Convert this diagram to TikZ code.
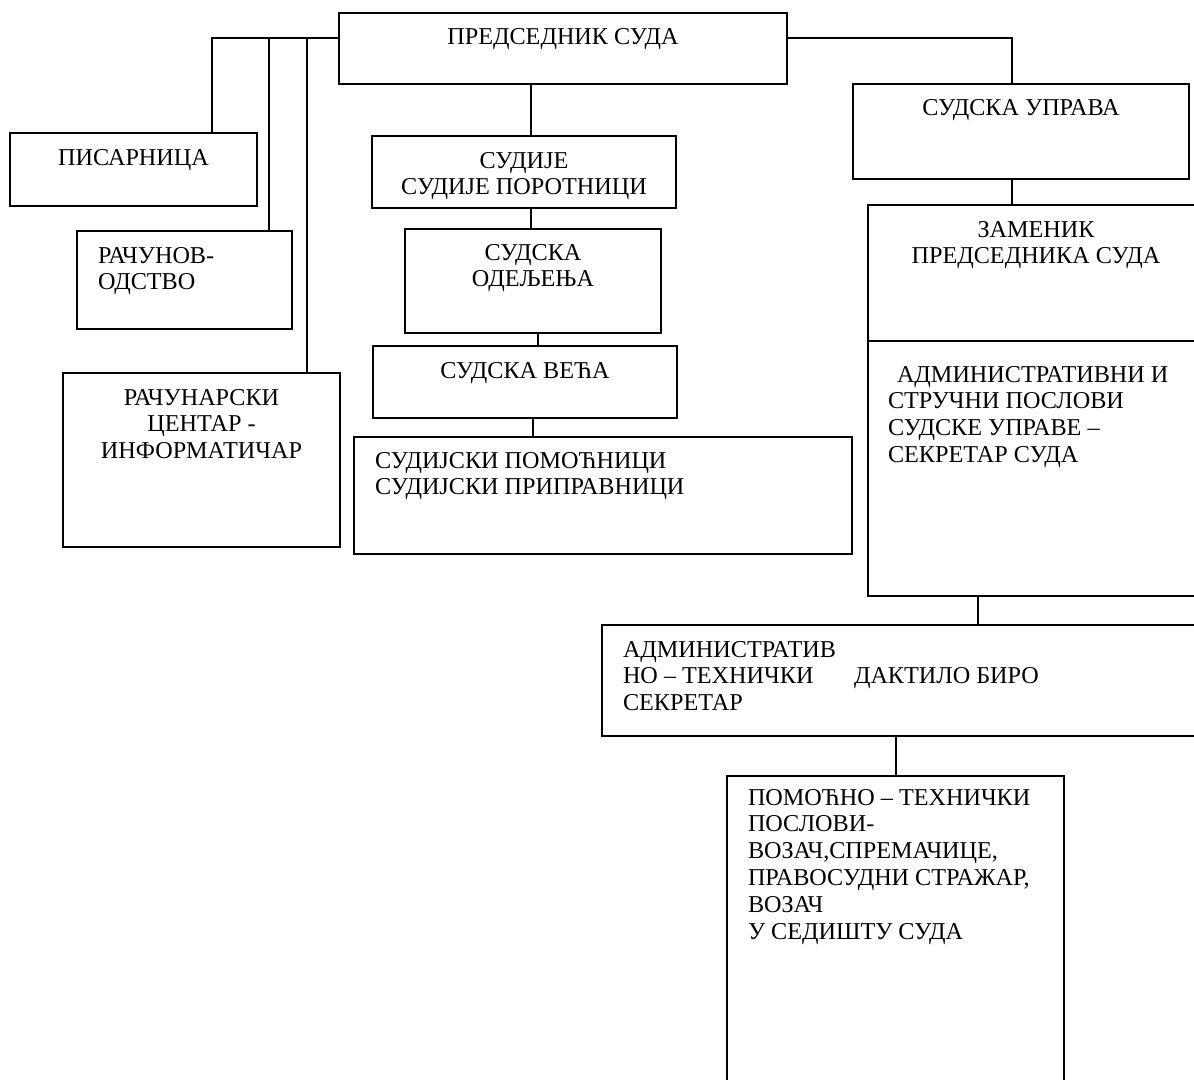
\documentclass[tikz,border=0pt]{standalone}
\usepackage{fontspec}
\setmainfont{Liberation Serif}
% stacked lines of a label; the first line carries the baseline
\newcommand\lns[2]{\begin{tabular}[t]{@{}#1@{}}#2\end{tabular}}
\begin{document}
\begin{tikzpicture}[x=1pt,y=-1pt,
  line width=1.8pt,
  orgbox/.style={draw, line width=1.8pt, inner sep=0pt, outer sep=0pt, anchor=north west},
  lbl/.style={inner sep=0pt, outer sep=0pt, anchor=base, font=\fontsize{24.2}{26.8}\selectfont},
  lblw/.style={lbl, anchor=base west}]
\useasboundingbox (0,0) rectangle (1194,1079);
\fill[white] (0,0) rectangle (1194,1079);
\clip (0,0) rectangle (1194,1079);

% boxes
\node[orgbox, minimum width=448pt, minimum height=71pt]  (pres)    at (339,13)  {};
\node[orgbox, minimum width=247pt, minimum height=73pt]  (pisar)   at (10,133)  {};
\node[orgbox, minimum width=215pt, minimum height=98pt]  (racun)   at (77,231)  {};
\node[orgbox, minimum width=277pt, minimum height=174pt] (racc)    at (63,373)  {};
\node[orgbox, minimum width=304pt, minimum height=72pt]  (sudije)  at (372,136) {};
\node[orgbox, minimum width=256pt, minimum height=104pt] (odelj)   at (405,229) {};
\node[orgbox, minimum width=304pt, minimum height=72pt]  (veca)    at (373,346) {};
\node[orgbox, minimum width=498pt, minimum height=117pt] (pomocn)  at (354,437) {};
\node[orgbox, minimum width=336pt, minimum height=95pt]  (uprava)  at (853,84)  {};
\node[orgbox, minimum width=336pt, minimum height=136pt] (zamenik) at (868,205) {};
\node[orgbox, minimum width=336pt, minimum height=255pt] (admin)   at (868,341) {};
\node[orgbox, minimum width=620pt, minimum height=111pt] (admtech) at (602,625) {};
\node[orgbox, minimum width=337pt, minimum height=320pt] (pomtech) at (727,776) {};

% labels
\node[lbl]  (tpres)    at ([yshift=-31pt]pres.north)   {ПРЕДСЕДНИК СУДА};
\node[lbl]  (tpisar)   at ([yshift=-32pt]pisar.north)  {ПИСАРНИЦА};
\node[lblw] (tracun)   at ([xshift=21pt,yshift=-32pt]racun.north west) {\lns{l}{РАЧУНОВ-\\ОДСТВО}};
\node[lbl]  (tracc)    at ([yshift=-32pt]racc.north)   {\lns{c}{РАЧУНАРСКИ\\ЦЕНТАР -\\ИНФОРМАТИЧАР}};
\node[lbl]  (tsudije)  at ([yshift=-32pt]sudije.north) {\lns{c}{СУДИЈЕ\\СУДИЈЕ ПОРОТНИЦИ}};
\node[lbl]  (todelj)   at ([yshift=-31pt]odelj.north)  {\lns{c}{СУДСКА\\ОДЕЉЕЊА}};
\node[lbl]  (tveca)    at ([yshift=-32pt]veca.north)   {СУДСКА ВЕЋА};
\node[lblw] (tpomocn)  at ([xshift=21pt,yshift=-31pt]pomocn.north west) {\lns{l}{СУДИЈСКИ ПОМОЋНИЦИ\\СУДИЈСКИ ПРИПРАВНИЦИ}};
\node[lbl]  (tuprava)  at ([yshift=-31pt]uprava.north) {СУДСКА УПРАВА};
\node[lbl]  (tzamenik) at ([yshift=-32pt]zamenik.north) {\lns{c}{ЗАМЕНИК\\ПРЕДСЕДНИКА СУДА}};
\node[lblw] (tadmin)   at ([xshift=20pt,yshift=-41pt]admin.north west) {\lns{l}{\hspace*{9pt}АДМИНИСТРАТИВНИ И\\СТРУЧНИ ПОСЛОВИ\\СУДСКЕ УПРАВЕ –\\СЕКРЕТАР СУДА}};
\node[lblw] (tadmtech) at ([xshift=21pt,yshift=-32pt]admtech.north west) {\lns{l}{АДМИНИСТРАТИВ\\НО – ТЕХНИЧКИ\\СЕКРЕТАР}};
\node[lblw] (tdaktilo) at ([xshift=252pt,yshift=-58.8pt]admtech.north west) {ДАКТИЛО БИРО};
\node[lblw] (tpomtech) at ([xshift=21pt,yshift=-29pt]pomtech.north west) {\lns{l}{ПОМОЋНО – ТЕХНИЧКИ\\ПОСЛОВИ-\\ВОЗАЧ,СПРЕМАЧИЦЕ,\\ПРАВОСУДНИ СТРАЖАР,\\ВОЗАЧ\\У СЕДИШТУ СУДА}};

% connector junctions
\coordinate (jL1) at (212,38);
\coordinate (jL2) at (269,38);
\coordinate (jL3) at (307,38);
\coordinate (jR)  at (1012,38);
\coordinate (cM1) at (531,0);
\coordinate (cM2) at (538,0);
\coordinate (cM3) at (533,0);
\coordinate (cR1) at (978,0);
\coordinate (cR2) at (896,0);

% connectors
\draw (pres.west |- jL1) -- (jL1) -- (jL1 |- pisar.north);
\draw (jL2) -- (jL2 |- racun.north);
\draw (jL3) -- (jL3 |- racc.north);
\draw (pres.east |- jR) -- (jR) -- (jR |- uprava.north);
\draw (jR |- uprava.south) -- (jR |- zamenik.north);
\draw (pres.south -| cM1) -- (sudije.north -| cM1);
\draw (sudije.south -| cM1) -- (odelj.north -| cM1);
\draw (odelj.south -| cM2) -- (veca.north -| cM2);
\draw (veca.south -| cM3) -- (pomocn.north -| cM3);
\draw (admin.south -| cR1) -- (admtech.north -| cR1);
\draw (admtech.south -| cR2) -- (pomtech.north -| cR2);
\end{tikzpicture}
\end{document}
